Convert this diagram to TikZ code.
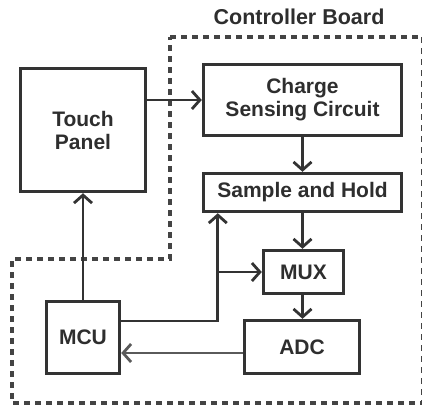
\documentclass[tikz,border=0pt]{standalone}
\usepackage{fontspec}
\setmainfont{Liberation Sans}
\usetikzlibrary{arrows.meta}
\definecolor{ln}{HTML}{333333}
\definecolor{tx}{HTML}{2E2E2E}
\definecolor{dsh}{HTML}{444444}
\definecolor{lg}{HTML}{5A5A5A}
\begin{document}
\begin{tikzpicture}[x=1pt,y=-1pt,
  box/.style={draw=ln, line width=3.4pt, fill=white, inner sep=0pt, align=center,
    text=tx, font=\bfseries\fontsize{21}{23}\selectfont},
  arr/.style={draw=ln, line width=2.8pt,
    -{Straight Barb[length=8pt,width=18pt,line width=2.8pt]}},
  bound/.style={draw=dsh, line width=3.2pt, dash pattern=on 6pt off 5pt}]
\useasboundingbox (0,0) rectangle (422,408);
% boundary
\draw[bound] (170,37) -- (422.8,37) -- (422.8,403) -- (12,403) -- (12,259) -- (170,259) -- cycle;
\node[text=tx, font=\bfseries\fontsize{21.5}{23}\selectfont, inner sep=0pt] (title) at (299,17) {Controller Board};
% boxes
\node[box, minimum width=125pt, minimum height=123pt] (TP) at (83,130) {Touch\\Panel};
\node[box, minimum width=198pt, minimum height=71pt] (CSC) at (302.5,100) {Charge\\Sensing Circuit};
\node[box, minimum width=198pt, minimum height=38pt] (SH) at (302.5,192.5) {Sample and Hold};
\node[box, minimum width=80pt, minimum height=43pt] (MUX) at (303.5,272) {MUX};
\node[box, minimum width=115pt, minimum height=53pt] (ADC) at (302,347) {ADC};
\node[box, minimum width=73pt, minimum height=72pt] (MCU) at (83,337.5) {MCU};
% connectors
\draw[arr] (CSC.west -| TP.east) -- (CSC.west);
\draw[arr] (CSC.south) -- (SH.north);
\draw[arr] (SH.south) -- (SH.south |- MUX.north);
\draw[arr] (MUX.south -| SH.south) -- (SH.south |- ADC.north);
\draw[arr, draw=lg] ([yshift=-6pt]ADC.west) -- ([yshift=-6pt]ADC.west -| MCU.east);
\draw[arr] (MCU.north) -- (MCU.north |- TP.south);
\coordinate (br) at ([xshift=16pt]SH.south west |- MUX.west);
\draw[arr] ([yshift=16.5pt]MCU.east) -| ([xshift=16pt]SH.south west);
\draw[arr] (br) -- (MUX.west);
\end{tikzpicture}
\end{document}
